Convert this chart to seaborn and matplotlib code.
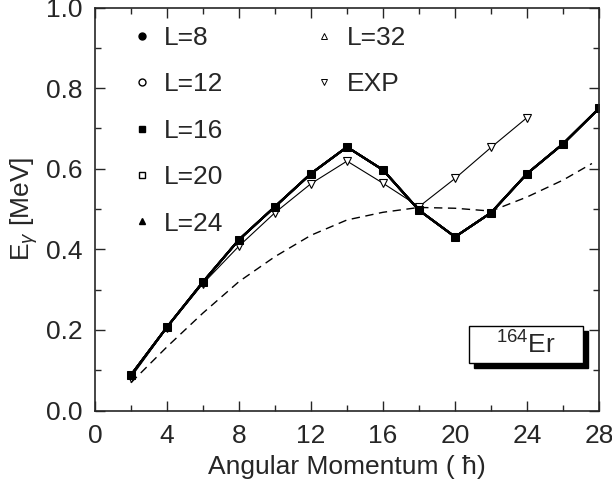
import numpy as np
import pandas as pd
import matplotlib.pyplot as plt
import seaborn as sns
from matplotlib.patches import Rectangle
from matplotlib.lines import Line2D
from matplotlib.ticker import MultipleLocator

# spin values and transition energies (MeV)
spin = [2, 4, 6, 8, 10, 12, 14, 16, 18, 20, 22, 24, 26, 28]
e_calc = [0.088, 0.207, 0.319, 0.424, 0.506, 0.588, 0.654, 0.597,
          0.497, 0.431, 0.491, 0.588, 0.662, 0.750]

spin_exp = [2, 4, 6, 8, 10, 12, 14, 16, 18, 20, 22, 24]
e_exp = [0.082, 0.205, 0.315, 0.408, 0.491, 0.563, 0.619, 0.564,
         0.506, 0.576, 0.653, 0.727]

spin_ref = [2, 4, 6, 8, 10, 12, 14, 16, 18, 20, 22, 24, 26, 27.6]
e_ref = [0.069, 0.158, 0.242, 0.320, 0.382, 0.435, 0.473, 0.492,
         0.504, 0.502, 0.495, 0.530, 0.572, 0.613]

labels = ["L=8", "L=12", "L=16", "L=20", "L=24", "L=32"]

sns.set_style("ticks")
plt.rcParams["font.family"] = ["Liberation Sans", "DejaVu Sans"]
plt.rcParams["mathtext.fontset"] = "custom"
plt.rcParams["mathtext.rm"] = "Liberation Sans"
plt.rcParams["mathtext.it"] = "Liberation Sans:italic"

FS = 19

fig = plt.figure(figsize=(6.12, 4.88), dpi=100)
ax = fig.add_axes([0.155, 0.1586, 0.824, 0.826])

df = pd.DataFrame({"spin": spin, "e": e_calc})
dfe = pd.DataFrame({"spin": spin_exp, "e": e_exp})
dfr = pd.DataFrame({"spin": spin_ref, "e": e_ref})

# reference curve
sns.lineplot(data=dfr, x="spin", y="e", ax=ax, color="black", lw=1.0,
             linestyle=(0, (6, 4)), legend=False)

# the L-series coincide; filled squares drawn on top
styles = {"L=8": ("o", "black"), "L=12": ("o", "white"), "L=20": ("s", "white"),
          "L=24": ("^", "black"), "L=32": ("^", "white")}
for lab in ["L=8", "L=12", "L=20", "L=24", "L=32"]:
    m, fc = styles[lab]
    ax.plot(df["spin"], df["e"], color="black", lw=1.5, marker=m,
            markersize=3.5, markerfacecolor=fc, markeredgecolor="black")

sns.lineplot(data=dfe, x="spin", y="e", ax=ax, color="black", lw=0.8,
             marker="v", markersize=5.5, markerfacecolor="white",
             markeredgecolor="black", markeredgewidth=0.8)
sns.lineplot(data=df, x="spin", y="e", ax=ax, color="black", lw=1.6,
             marker="s", markersize=5.3, markerfacecolor="black",
             markeredgecolor="black")

ax.set_xlim(0, 28)
ax.set_ylim(0, 1.0)
ax.xaxis.set_major_locator(MultipleLocator(4))
ax.xaxis.set_minor_locator(MultipleLocator(2))
ax.yaxis.set_major_locator(MultipleLocator(0.2))
ax.yaxis.set_minor_locator(MultipleLocator(0.1))
ax.yaxis.set_major_formatter(plt.FormatStrFormatter("%.1f"))
ax.tick_params(which="both", direction="in", top=True, right=True,
               labelsize=FS, width=1)
ax.tick_params(which="major", length=7)
ax.tick_params(which="minor", length=4)
ax.tick_params(axis="x", which="major", pad=10)
ax.tick_params(axis="y", which="major", pad=9)
for s in ax.spines.values():
    s.set_linewidth(1.2)

ax.set_xlabel("Angular Momentum ( ħ)", fontsize=FS, labelpad=5)
ax.set_ylabel(r"E$_\gamma$ [MeV]", fontsize=FS, labelpad=4)

# legend
handles = [
    Line2D([], [], ls="", marker="o", ms=5, mfc="black", mec="black"),
    Line2D([], [], ls="", marker="o", ms=5, mfc="white", mec="black"),
    Line2D([], [], ls="", marker="s", ms=5, mfc="black", mec="black"),
    Line2D([], [], ls="", marker="s", ms=5, mfc="white", mec="black"),
    Line2D([], [], ls="", marker="^", ms=4, mfc="black", mec="black"),
    Line2D([], [], ls="", marker="^", ms=4, mfc="white", mec="black", mew=0.7),
    Line2D([], [], ls="", marker="v", ms=4, mfc="white", mec="black", mew=0.7),
]
leg_labels = labels[:5] + [labels[5], "EXP"]
kw = dict(loc="upper left", frameon=False, fontsize=FS, handletextpad=0.35,
          labelspacing=0.85, handlelength=1.0, borderpad=0.2)
leg1 = ax.legend(handles[:5], leg_labels[:5], bbox_to_anchor=(0.03, 1.0), **kw)
ax.add_artist(leg1)
ax.legend(handles[5:], leg_labels[5:], bbox_to_anchor=(0.392, 1.0), **kw)

# nucleus label box with shadow
ax.add_patch(Rectangle((21.05, 0.106), 6.35, 0.092, facecolor="black",
                       edgecolor="black", zorder=5))
ax.add_patch(Rectangle((20.77, 0.118), 6.35, 0.092, facecolor="white",
                       edgecolor="black", lw=1.0, zorder=6))
ax.text(23.95, 0.162, r"$^{164}$Er", ha="center", va="center",
        fontsize=FS, zorder=7)

fig.savefig("out.png", dpi=100)
